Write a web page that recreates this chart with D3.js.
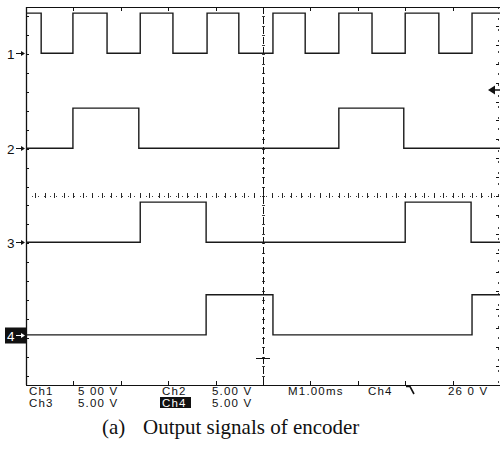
<!DOCTYPE html>
<html>
<head>
<meta charset="utf-8">
<script src="https://cdn.jsdelivr.net/npm/d3@7"></script>
<style>
  body { margin: 0; background: #fff; }
  svg { display: block; }
</style>
</head>
<body>
<div id="scope"></div>
<script>
// time axis in ms (1.00 ms/div, 10 div), vertical in divisions (8 div, 5 V/div)
var voltsPerDiv = 5;
var highVolts = 4.25;
var channels = ["1", "2", "3", "4"];
var channelOffsets = [3.02, 1.01, -0.98, -2.94];   // ground marker position, div

// transition times (ms) and the level after each one (1 = high)
var ch1Times  = [-5, -4.68, -4.01, -3.29, -2.59, -1.90, -1.18, -0.51, 0.21, 0.89, 1.60, 2.30, 3.00, 3.71, 4.41, 5];
var ch1Levels = [1, 0, 1, 0, 1, 0, 1, 0, 1, 0, 1, 0, 1, 0, 1, 1];
var ch2Times  = [-5, -4.01, -2.62, 1.60, 2.97, 5];
var ch2Levels = [0, 1, 0, 1, 0, 0];
var ch3Times  = [-5, -2.59, -1.20, 3.00, 4.39, 5];
var ch3Levels = [0, 1, 0, 1, 0, 0];
var ch4Times  = [-5, -1.20, 0.21, 4.41, 5];
var ch4Levels = [0, 1, 0, 1, 1];

var readoutRow1 = ["Ch1", "5 00 V", "Ch2", "5.00 V", "M1.00ms", "Ch4", "26 0 V"];
var readoutRow2 = ["Ch3", "5.00 V", "Ch4", "5.00 V"];
var caption = ["(a)", "Output signals of encoder"];

var W = 500, H = 455;
var svg = d3.select("#scope").append("svg").attr("width", W).attr("height", H);

var x = d3.scaleLinear().domain([-5, 5]).range([26, 500]);
var y = d3.scaleLinear().domain([-4, 4]).range([385, 7]);

var frame = svg.append("g").attr("stroke", "#111").attr("fill", "none");
frame.append("line").attr("x1", x(-5) + 0.5).attr("x2", x(-5) + 0.5).attr("y1", y(4)).attr("y2", y(-4)).attr("stroke-width", 1.3);
frame.append("line").attr("x1", x(-5)).attr("x2", x(5)).attr("y1", y(4) + 0.5).attr("y2", y(4) + 0.5).attr("stroke-width", 1.2);
frame.append("line").attr("x1", x(-5)).attr("x2", x(5)).attr("y1", y(-4) + 0.5).attr("y2", y(-4) + 0.5).attr("stroke-width", 1.2);
frame.append("line").attr("x1", x(5) - 1.5).attr("x2", x(5) - 1.5).attr("y1", y(4)).attr("y2", y(-4)).attr("stroke-width", 0.8).attr("stroke-dasharray", "2,9");

// center cross
frame.append("line").attr("x1", x(0) + 0.5).attr("x2", x(0) + 0.5).attr("y1", y(4)).attr("y2", y(-4)).attr("stroke-width", 1).attr("stroke-dasharray", "7,3");
frame.append("line").attr("x1", x(-5)).attr("x2", x(5)).attr("y1", y(0) + 0.5).attr("y2", y(0) + 0.5).attr("stroke-width", 0.8).attr("stroke-dasharray", "1,5");

var minorX = d3.range(-50, 51).map(d => d / 5).filter(d => d > -5 && d < 5);
var minorY = d3.range(-40, 41).map(d => d / 5).filter(d => d > -4 && d < 4);
var majorX = d3.range(-4, 5);

frame.selectAll(".hx").data(minorX).join("line")
  .attr("x1", d => Math.round(x(d)) + 0.5).attr("x2", d => Math.round(x(d)) + 0.5)
  .attr("y1", y(0) - 3).attr("y2", y(0) + 2).attr("stroke-width", 0.9);
frame.selectAll(".vy").data(minorY).join("line")
  .attr("x1", x(0) - 1).attr("x2", x(0) + 2)
  .attr("y1", d => Math.round(y(d)) + 0.5).attr("y2", d => Math.round(y(d)) + 0.5).attr("stroke-width", 0.8);

// edge ticks
frame.selectAll(".tt").data(majorX).join("line")
  .attr("x1", d => Math.round(x(d)) + 0.5).attr("x2", d => Math.round(x(d)) + 0.5)
  .attr("y1", y(4)).attr("y2", y(4) + 4);
frame.selectAll(".tb").data(majorX).join("line")
  .attr("x1", d => Math.round(x(d)) + 0.5).attr("x2", d => Math.round(x(d)) + 0.5)
  .attr("y1", y(-4)).attr("y2", y(-4) - 4);
frame.selectAll(".tl").data(minorY.filter((d, i) => i % 2 == 0)).join("line")
  .attr("x1", x(-5)).attr("x2", x(-5) + 3)
  .attr("y1", d => Math.round(y(d)) + 0.5).attr("y2", d => Math.round(y(d)) + 0.5);
frame.selectAll(".tr").data(minorY.filter((d, i) => i % 2 == 1)).join("line")
  .attr("x1", x(5) - 4).attr("x2", x(5) - 1)
  .attr("y1", d => Math.round(y(d)) + 0.5).attr("y2", d => Math.round(y(d)) + 0.5);

// traces
var traces = [[ch1Times, ch1Levels], [ch2Times, ch2Levels], [ch3Times, ch3Levels], [ch4Times, ch4Levels]];
var line = d3.line().curve(d3.curveStepAfter).x(d => x(d[0])).y(d => y(d[1]));

traces.forEach(function(tr, i) {
  var pts = tr[0].map((t, j) => [t, channelOffsets[i] + tr[1][j] * highVolts / voltsPerDiv]);
  svg.append("path").datum(pts).attr("d", line)
    .attr("fill", "none").attr("stroke", "#1a1a1a").attr("stroke-width", 1.4);
});

// channel ground markers
var markers = svg.append("g");
channels.forEach(function(c, i) {
  var yy = Math.round(y(channelOffsets[i])) + 0.5;
  var g = markers.append("g");
  var ink = "#111";
  if (c == "4") {
    g.append("rect").attr("x", 5).attr("y", yy - 8).attr("width", 21).attr("height", 16).attr("fill", "#111");
    ink = "#fff";
  }
  g.append("text").attr("x", 7).attr("y", yy + 5).text(c)
    .attr("font-family", "Liberation Sans, Arial, sans-serif").attr("font-size", 13.5).attr("fill", ink);
  g.append("line").attr("x1", 16).attr("x2", 24).attr("y1", yy).attr("y2", yy).attr("stroke", ink).attr("stroke-width", 1);
  g.append("path").attr("d", `M25,${yy}L21,${yy - 2.5}L21,${yy + 2.5}Z`).attr("fill", ink);
});

// trigger level arrow on right edge
var trigY = 90;
svg.append("path").attr("d", `M488,${trigY}L495,${trigY - 4.5}L495,${trigY + 4.5}Z`).attr("fill", "#111");
svg.append("line").attr("x1", 494).attr("x2", 500).attr("y1", trigY).attr("y2", trigY).attr("stroke", "#111").attr("stroke-width", 1.5);

// trigger position cross
svg.append("line").attr("x1", x(0) - 7).attr("x2", x(0) + 7).attr("y1", 358.5).attr("y2", 358.5).attr("stroke", "#111");

// readout
var r1x = [29, 78, 162, 212, 288, 368, 448];
var r2x = [29, 78, 162, 212];
var ro = svg.append("g").attr("font-family", "Liberation Sans, Arial, sans-serif").attr("font-size", 11.5).attr("fill", "#111").attr("letter-spacing", 1.2);
readoutRow1.forEach(function(t, i) {
  ro.append("text").attr("x", r1x[i]).attr("y", 395).text(t);
});
readoutRow2.forEach(function(t, i) {
  if (t == "Ch4") {
    ro.append("rect").attr("x", r2x[i] - 2).attr("y", 397).attr("width", 31).attr("height", 11).attr("fill", "#111");
    ro.append("text").attr("x", r2x[i]).attr("y", 406.5).text(t).attr("fill", "#fff");
  } else {
    ro.append("text").attr("x", r2x[i]).attr("y", 406.5).text(t);
  }
});
// falling edge trigger symbol
ro.append("path").attr("d", "M406,386.5L410,386.5L414,394").attr("fill", "none").attr("stroke", "#111").attr("stroke-width", 1.6);

// caption
var cap = svg.append("g").attr("font-family", "Liberation Serif, Times New Roman, serif").attr("font-size", 21).attr("fill", "#111");
cap.append("text").attr("x", 102).attr("y", 434).text(caption[0]);
cap.append("text").attr("x", 143).attr("y", 434).text(caption[1]);
</script>
</body>
</html>
